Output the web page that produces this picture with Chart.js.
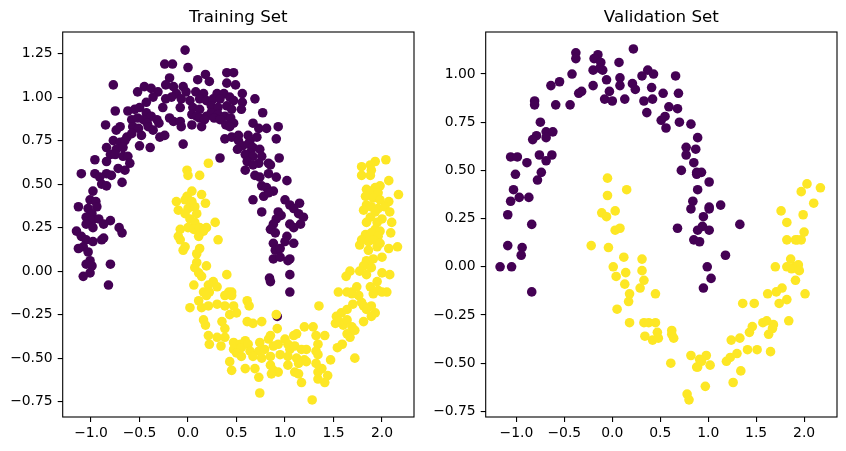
<!DOCTYPE html>
<html>
<head>
<meta charset="utf-8">
<script src="https://cdn.jsdelivr.net/npm/chart.js@4/dist/chart.umd.min.js"></script>
<style>
  body { margin: 0; background: #fff; }
  .wrap { position: absolute; top: 0; width: 423px; height: 451px; }
</style>
</head>
<body>
<div class="wrap" style="left:0"><canvas id="train" width="423" height="451"></canvas></div>
<div class="wrap" style="left:423px"><canvas id="val" width="423" height="451"></canvas></div>
<script>
// colours of the two classes (viridis ends)
const classColors = ["#440154", "#fde725"];

const trainTicksX = [-1.0, -0.5, 0.0, 0.5, 1.0, 1.5, 2.0];
const trainTicksY = [-0.75, -0.5, -0.25, 0.0, 0.25, 0.5, 0.75, 1.0, 1.25];
const valTicksX = [-1.0, -0.5, 0.0, 0.5, 1.0, 1.5, 2.0];
const valTicksY = [-0.75, -0.5, -0.25, 0.0, 0.25, 0.5, 0.75, 1.0];

// training set, class 0 (upper moon)
const trainClass0 = [
  [-0.03,1.27],[-0.24,1.19],[-0.16,1.19],[0.0,1.17],[0.40,1.14],[0.47,1.14],[0.18,1.13],[0.10,1.10],[0.22,1.09],[-0.19,1.11],
  [-0.77,1.07],[-0.45,1.06],[-0.38,1.05],[-0.23,1.07],[-0.15,1.06],[-0.05,1.06],[0.40,1.08],[0.49,1.07],[-0.52,1.03],[-0.31,1.03],
  [-0.12,1.02],[-0.02,1.03],[0.08,1.03],[0.16,1.02],[0.30,1.02],[0.37,1.02],[0.56,1.02],[-0.36,1.00],[-0.23,0.99],[-0.17,1.00],
  [-0.07,0.99],[0.02,0.98],[0.12,0.99],[0.19,0.98],[0.26,0.99],[0.33,0.99],[0.43,1.00],[0.47,0.98],[0.69,0.99],[0.56,0.97],
  [-0.43,0.97],[-0.26,0.94],[-0.08,0.94],[0.05,0.94],[0.12,0.93],[0.24,0.95],[0.31,0.94],[0.40,0.95],[0.45,0.93],[0.55,0.93],
  [-0.62,0.92],[-0.55,0.93],[-0.50,0.94],[-0.75,0.92],[-0.43,0.91],[-0.38,0.89],[0.04,0.90],[0.09,0.89],[0.19,0.89],[0.24,0.91],
  [0.31,0.90],[0.38,0.89],[0.77,0.91],[-0.58,0.87],[-0.52,0.88],[-0.46,0.87],[-0.42,0.85],[-0.32,0.87],[-0.19,0.88],[-0.15,0.86],
  [0.12,0.88],[0.17,0.87],[0.27,0.88],[0.33,0.87],[0.44,0.88],[0.47,0.85],[-0.85,0.84],[-0.74,0.81],[-0.70,0.83],[-0.57,0.83],
  [-0.51,0.82],[-0.41,0.83],[-0.36,0.81],[-0.30,0.85],[-0.08,0.86],[-0.07,0.83],[0.04,0.84],[0.14,0.83],[0.39,0.84],[0.43,0.83],
  [0.67,0.85],[0.73,0.82],[0.81,0.82],[0.93,0.83],[-0.63,0.77],[-0.58,0.79],[-0.48,0.78],[-0.29,0.77],[-0.24,0.78],[0.38,0.76],
  [0.45,0.77],[0.52,0.78],[0.52,0.75],[0.62,0.78],[0.64,0.75],[0.71,0.77],[0.91,0.76],[-0.77,0.75],[-0.70,0.74],[-0.65,0.75],
  [-0.50,0.72],[-0.39,0.71],[-0.05,0.73],[0.56,0.72],[0.62,0.73],[0.67,0.71],[-0.84,0.71],[-0.74,0.70],[-0.67,0.71],[0.51,0.70],
  [0.74,0.70],[0.64,0.68],[-0.80,0.67],[-0.75,0.67],[-0.67,0.66],[-0.62,0.66],[0.33,0.65],[0.59,0.67],[0.67,0.66],[0.76,0.66],
  [0.94,0.65],[-0.96,0.64],[-0.84,0.63],[-0.60,0.62],[0.61,0.63],[0.73,0.62],[0.83,0.62],
  [-0.72,0.59],[-0.65,0.58],[-1.10,0.56],[-0.84,0.56],[-0.79,0.55],[-0.96,0.56],[-0.91,0.54],[-0.68,0.51],[-0.89,0.50],[-0.84,0.49],
  [-0.98,0.46],[-1.01,0.41],[-0.95,0.40],[-1.13,0.37],[-1.03,0.36],[-0.94,0.37],[-0.99,0.33],[-1.05,0.31],[-0.99,0.29],[-0.92,0.30],
  [-1.05,0.27],[-0.80,0.29],[-0.87,0.27],[-0.98,0.25],[-0.71,0.25],[-1.15,0.23],[-0.68,0.22],[-1.10,0.20],[-1.05,0.18],[-0.98,0.17],
  [-0.89,0.18],[-0.87,0.19],[-1.08,0.14],[-1.13,0.13],[-1.03,0.11],[-1.01,0.06],[-1.05,0.04],[-0.80,0.04],[-0.99,0.03],[-1.01,-0.01],
  [-1.08,-0.03],[-0.82,-0.08],
  [0.67,0.61],[0.85,0.61],[0.59,0.58],[0.69,0.55],[0.74,0.54],[0.83,0.56],[0.91,0.54],[1.02,0.52],[0.76,0.49],[0.81,0.48],
  [0.88,0.46],[0.67,0.41],[0.78,0.43],[0.83,0.45],[1.00,0.41],[1.05,0.38],[1.15,0.39],[0.76,0.34],[0.93,0.34],[0.96,0.32],
  [0.91,0.30],[1.09,0.36],[1.14,0.33],[1.19,0.31],[1.05,0.27],[1.16,0.27],[1.09,0.25],[0.88,0.27],[0.85,0.24],[0.90,0.22],
  [1.02,0.20],[1.00,0.17],[1.09,0.16],[0.88,0.16],[0.90,0.12],[0.95,0.13],[0.88,0.07],[0.95,0.08],[1.05,0.07],[1.03,0.06],
  [0.84,-0.04],[0.85,-0.06],[1.05,-0.02],[1.05,-0.12],[0.92,-0.26]
];

// training set, class 1 (lower moon)
const trainClass1 = [
  [0.21,0.62],[1.93,0.63],[2.04,0.64],[1.88,0.61],[1.79,0.60],
  [-0.01,0.58],[0.0,0.55],[0.12,0.55],[0.04,0.46],[-0.01,0.43],[0.14,0.44],[-0.12,0.40],[-0.03,0.41],[0.04,0.40],[0.18,0.39],
  [-0.10,0.35],[0.0,0.36],[0.07,0.37],[-0.03,0.33],[0.09,0.33],[0.02,0.30],[0.07,0.28],[0.28,0.28],[0.19,0.25],[-0.08,0.24],
  [0.0,0.25],[0.06,0.24],[0.12,0.25],[0.16,0.23],[-0.10,0.20],[-0.08,0.18],[0.11,0.20],[0.31,0.18],[-0.03,0.14],[-0.05,0.12],
  [0.12,0.13],[0.09,0.10],[0.09,0.05],[0.19,0.03],[0.07,0.02],[0.40,-0.02],[0.11,-0.01],[0.14,-0.03],[0.26,-0.06],[0.21,-0.08],
  [0.30,-0.09],[0.06,-0.08],[0.42,-0.12],[0.45,-0.12],[0.16,-0.12],[0.22,-0.12],
  [1.89,0.58],[1.79,0.55],[1.88,0.55],[2.07,0.52],[1.98,0.49],[1.93,0.48],[1.84,0.47],[1.89,0.46],[1.96,0.45],[2.17,0.44],
  [1.83,0.43],[1.91,0.42],[1.98,0.41],[2.07,0.40],[1.84,0.38],[1.89,0.37],[1.96,0.36],[2.03,0.37],[1.81,0.35],[1.93,0.34],
  [2.08,0.34],[1.88,0.31],[2.00,0.30],[1.84,0.28],[1.95,0.28],[2.10,0.28],[1.93,0.24],[1.98,0.23],[1.83,0.21],[1.89,0.22],
  [1.96,0.20],[2.09,0.22],[1.79,0.18],[1.86,0.17],[1.91,0.18],[1.77,0.15],[1.95,0.14],[1.98,0.16],[2.16,0.14],[1.86,0.12],
  [2.07,0.13],[1.84,0.06],[1.91,0.07],[2.00,0.08],[1.81,0.03],[1.89,0.02],[1.67,0.0],[1.63,-0.03],[1.77,0.0],[1.84,-0.02],
  [2.00,-0.01],[2.08,-0.02],[1.95,-0.06],[1.88,-0.09],[1.74,-0.09],[1.69,-0.12],[1.55,-0.12],[1.64,-0.12],[1.96,-0.11],[2.05,-0.12],
  [0.02,-0.21],[0.11,-0.17],[0.19,-0.14],[0.14,-0.21],[0.21,-0.20],[0.30,-0.19],[0.38,-0.14],[0.45,-0.14],[0.38,-0.20],[0.47,-0.20],
  [0.61,-0.17],[0.63,-0.20],[0.16,-0.28],[0.18,-0.31],[0.43,-0.25],[0.50,-0.24],[0.35,-0.29],[0.38,-0.33],[0.61,-0.29],[0.67,-0.30],
  [0.76,-0.29],[0.91,-0.25],[0.92,-0.33],[0.21,-0.37],[0.30,-0.38],[0.38,-0.38],[0.22,-0.42],[0.34,-0.43],[0.47,-0.41],[0.54,-0.42],
  [0.59,-0.40],[0.47,-0.45],[0.55,-0.44],[0.62,-0.42],[0.50,-0.47],[0.55,-0.49],[0.64,-0.46],[0.74,-0.41],[0.83,-0.39],[0.85,-0.37],
  [0.73,-0.46],[0.79,-0.45],[0.88,-0.43],[0.93,-0.42],[0.67,-0.49],[0.76,-0.50],[0.85,-0.49],[0.95,-0.48],[0.43,-0.52],[0.45,-0.57],
  [0.59,-0.56],[0.69,-0.56],[0.73,-0.61],[0.85,-0.54],[0.88,-0.57],[0.93,-0.58],[0.86,-0.59],[0.74,-0.70],[1.00,-0.39],[1.03,-0.42],
  [1.09,-0.37],[1.12,-0.36],[1.20,-0.32],[1.29,-0.32],[1.41,-0.37],[1.32,-0.37],[1.05,-0.45],[1.10,-0.43],[1.17,-0.45],[1.22,-0.45],
  [1.03,-0.49],[1.12,-0.50],[1.20,-0.51],[1.34,-0.42],[1.32,-0.46],[1.34,-0.48],[1.03,-0.54],[1.14,-0.53],[1.22,-0.52],[1.10,-0.58],
  [1.14,-0.59],[1.17,-0.64],[1.32,-0.53],[1.34,-0.58],[1.38,-0.56],[1.34,-0.62],[1.41,-0.64],[1.44,-0.60],[1.28,-0.74],[1.47,-0.51],
  [1.35,-0.20],[1.53,-0.26],[1.58,-0.24],[1.64,-0.22],[1.52,-0.30],[1.56,-0.29],[1.60,-0.31],[1.64,-0.28],[1.69,-0.32],[1.64,-0.36],
  [1.67,-0.38],[1.72,-0.34],[1.54,-0.44],[1.59,-0.42],[1.72,-0.50],[1.69,-0.13],[1.76,-0.14],[1.70,-0.19],[1.79,-0.18],[1.81,-0.20],
  [1.89,-0.20],[1.93,-0.24],[1.84,-0.22],[1.81,-0.29],[1.89,-0.26],[1.91,-0.13],[2.00,-0.12]
];

// validation set, class 0
const valClass0 = [
  [0.22,1.13],[-0.38,1.11],[-0.38,1.08],[-0.15,1.10],[-0.19,1.08],[-0.12,1.06],[0.07,1.06],[-0.20,1.02],[-0.13,1.03],[-0.10,1.02],
  [-0.42,1.00],[0.37,1.02],[0.43,1.00],[0.31,0.99],[0.66,0.99],[-0.06,0.97],[0.08,0.98],[0.08,0.94],[0.21,0.95],[0.24,0.92],
  [0.41,0.93],[-0.55,0.96],[-0.64,0.94],[-0.20,0.94],[-0.03,0.91],[-0.35,0.90],[-0.32,0.91],[0.53,0.90],[0.69,0.90],[-0.08,0.87],
  [0.0,0.86],[0.13,0.87],[0.33,0.86],[0.42,0.87],[-0.81,0.86],[-0.81,0.84],[-0.59,0.84],[-0.44,0.84],[0.36,0.80],[0.59,0.83],
  [0.68,0.82],[0.51,0.76],[0.55,0.78],[0.56,0.72],[0.70,0.75],[0.82,0.74],[-0.75,0.75],[-0.79,0.68],[-0.83,0.66],[-0.69,0.70],
  [-0.62,0.70],[-0.69,0.67],[0.89,0.67],[0.77,0.62],[0.87,0.61],[0.77,0.58],[0.85,0.54],[-1.06,0.57],[-0.99,0.57],[-0.89,0.54],
  [-0.76,0.58],[-0.63,0.58],[-0.69,0.55],
  [-1.01,0.48],[-0.74,0.49],[-0.78,0.45],[-1.03,0.40],[-0.97,0.36],[-0.87,0.36],[-1.06,0.34],[-1.09,0.27],[-0.84,0.22],[-1.09,0.11],
  [-0.94,0.10],[-0.95,0.06],[-1.17,0.0],[-1.05,0.0],[-0.84,-0.13],
  [0.72,0.50],[0.88,0.49],[0.93,0.49],[0.88,0.48],[1.01,0.44],[0.89,0.40],[0.84,0.34],[0.82,0.30],[1.01,0.31],[1.01,0.30],
  [1.13,0.32],[0.95,0.26],[1.33,0.22],[0.68,0.20],[0.94,0.21],[0.89,0.19],[1.01,0.19],[0.85,0.14],[0.91,0.13],[1.18,0.06],
  [0.99,0.0],[1.03,-0.06],[0.95,-0.11]
];

// validation set, class 1
const valClass1 = [
  [-0.05,0.46],[0.15,0.40],[-0.05,0.37],[-0.11,0.28],[-0.06,0.26],[0.03,0.29],[0.03,0.19],[0.08,0.20],[-0.22,0.11],[-0.04,0.10],
  [0.12,0.05],[0.31,0.04],[0.01,0.0],[0.31,-0.02],[0.04,-0.05],[0.14,-0.03],[0.33,-0.07],[0.13,-0.09],[0.29,-0.11],[0.18,-0.14],
  [0.45,-0.14],
  [2.03,0.43],[2.17,0.41],[1.97,0.39],[2.10,0.33],[1.76,0.29],[1.99,0.27],[1.82,0.23],[2.00,0.18],[1.82,0.14],[1.91,0.14],
  [1.93,0.14],[1.97,0.14],[1.86,0.04],[1.82,0.0],[1.90,0.0],[1.94,0.01],[1.87,-0.01],[1.95,-0.02],[1.70,0.0],[1.91,-0.07],
  [1.77,-0.11],[1.71,-0.13],[1.62,-0.14],[2.01,-0.14],
  [0.17,-0.18],[0.05,-0.22],[0.18,-0.29],[0.33,-0.29],[0.38,-0.29],[0.45,-0.29],[0.47,-0.34],[0.34,-0.36],[0.42,-0.38],[0.48,-0.37],
  [0.62,-0.33],[0.62,-0.35],[0.64,-0.37],[0.61,-0.50],[0.82,-0.46],[0.91,-0.48],[0.98,-0.46],[1.02,-0.51],[0.89,-0.52],[0.88,-0.52],
  [0.93,-0.49],[0.78,-0.66],[0.80,-0.69],[0.97,-0.62],[1.19,-0.49],[1.23,-0.47],[1.30,-0.45],[1.34,-0.54],[1.26,-0.60],[1.24,-0.38],
  [1.33,-0.37],[1.43,-0.34],[1.46,-0.31],[1.41,-0.43],[1.51,-0.43],[1.57,-0.29],[1.61,-0.28],[1.68,-0.30],[1.67,-0.32],[1.63,-0.35],
  [1.65,-0.44],[1.84,-0.28],[1.36,-0.19],[1.48,-0.19],[1.74,-0.19],[1.82,-0.17]
];

const FONT = "'DejaVu Sans', sans-serif";

// title + box round the plot area, like matplotlib
const framePlugin = {
  id: "frame",
  afterDraw(chart, args, opts) {
    const { ctx, chartArea: a } = chart;
    ctx.save();
    ctx.strokeStyle = "#000";
    ctx.lineWidth = 1.1;
    ctx.strokeRect(a.left, a.top, a.right - a.left, a.bottom - a.top);
    ctx.fillStyle = "#000";
    ctx.font = "16.7px " + FONT;
    ctx.textAlign = "center";
    ctx.textBaseline = "middle";
    ctx.fillText(opts.title, (a.left + a.right) / 2, 18);
    ctx.restore();
  }
};

const fmt = (v, d) => v.toFixed(d).replace("-", "\u2212");

function makeScatter(id, title, class0, class1, xr, yr, ticksX, ticksY) {
  const toPts = arr => arr.map(p => ({ x: p[0], y: p[1] }));
  new Chart(document.getElementById(id), {
    type: "scatter",
    data: {
      datasets: [
        { data: toPts(class1), backgroundColor: classColors[1] },
        { data: toPts(class0), backgroundColor: classColors[0] }
      ]
    },
    options: {
      responsive: false,
      animation: false,
      devicePixelRatio: 1,
      layout: { padding: { top: 32, right: 9, left: 0, bottom: 0 } },
      elements: { point: { radius: 4.8, borderWidth: 0, hoverRadius: 4.8 } },
      plugins: { legend: { display: false }, tooltip: { enabled: false }, frame: { title } },
      events: [],
      scales: {
        x: {
          min: xr[0], max: xr[1],
          afterBuildTicks: s => { s.ticks = ticksX.map(v => ({ value: v })); },
          afterFit: s => { s.height = 34; },
          grid: { drawOnChartArea: false, tickLength: 5, tickColor: "#000", lineWidth: 1.1 },
          border: { display: false },
          ticks: { color: "#000", padding: 3, maxRotation: 0, font: { family: FONT, size: 13.9 }, callback: v => fmt(v, 1) }
        },
        y: {
          min: yr[0], max: yr[1],
          afterBuildTicks: s => { s.ticks = ticksY.map(v => ({ value: v })); },
          afterFit: s => { s.width = 62.7; },
          grid: { drawOnChartArea: false, tickLength: 5, tickColor: "#000", lineWidth: 1.1 },
          border: { display: false },
          ticks: { color: "#000", padding: 5, font: { family: FONT, size: 13.9 }, callback: v => fmt(v, 2) }
        }
      }
    },
    plugins: [framePlugin]
  });
}

makeScatter("train", "Training Set", trainClass0, trainClass1, [-1.292, 2.330], [-0.838, 1.374], trainTicksX, trainTicksY);
makeScatter("val", "Validation Set", valClass0, valClass1, [-1.320, 2.343], [-0.779, 1.218], valTicksX, valTicksY);
</script>
</body>
</html>
